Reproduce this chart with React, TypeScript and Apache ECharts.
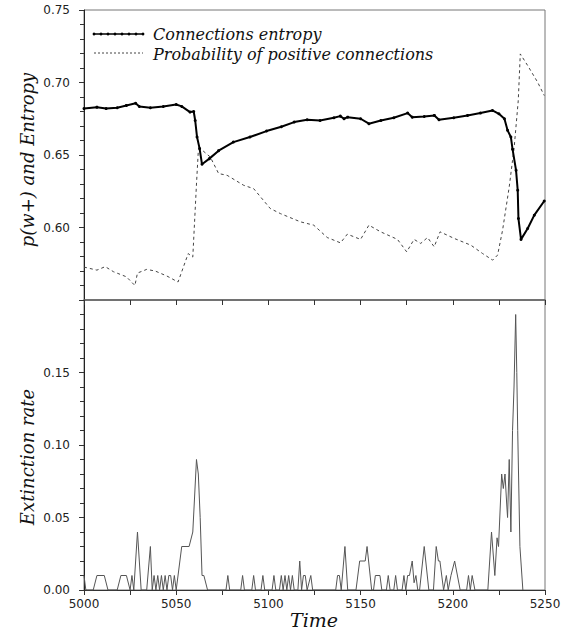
import React, { useEffect, useRef } from "react";
import * as echarts from "echarts";

// Connections entropy (top panel, solid with dots)
const entropyTime = [5000, 5007, 5012, 5018, 5023, 5028, 5030, 5036, 5043, 5050, 5053, 5057.5, 5059.5, 5060.3, 5061.3, 5062.7, 5064, 5068, 5073, 5081, 5090, 5099, 5107, 5114, 5121, 5128, 5135.5, 5139, 5141, 5143, 5150, 5154.5, 5161, 5168, 5175.5, 5178, 5184.5, 5190, 5192.5, 5200.5, 5208, 5215, 5221.5, 5225, 5228, 5229.7, 5231.5, 5232.4, 5234.3, 5235.2, 5235.6, 5237, 5240.6, 5244.2, 5249.6];
const entropyValue = [0.682, 0.683, 0.682, 0.6826, 0.6842, 0.6857, 0.6835, 0.6826, 0.6835, 0.6848, 0.6835, 0.6796, 0.68, 0.6738, 0.6624, 0.6544, 0.6436, 0.6475, 0.653, 0.6589, 0.6624, 0.6665, 0.6695, 0.6727, 0.6743, 0.6738, 0.6757, 0.6768, 0.675, 0.6761, 0.675, 0.6716, 0.6738, 0.6757, 0.6789, 0.6761, 0.6766, 0.6773, 0.6743, 0.6757, 0.6773, 0.6789, 0.6807, 0.6784, 0.675, 0.667, 0.6624, 0.654, 0.6394, 0.6257, 0.6062, 0.5918, 0.5993, 0.6085, 0.6183];

// Probability of positive connections (top panel, dashed)
const probTime = [5000, 5007, 5011.5, 5016, 5023, 5027.6, 5029, 5034, 5038.6, 5045, 5051, 5056.5, 5059, 5061, 5062, 5063, 5068.5, 5073, 5077.6, 5086.6, 5092, 5101, 5106.5, 5117.4, 5124.6, 5131.9, 5139.1, 5142.8, 5150, 5154.5, 5160.9, 5170, 5175, 5179, 5182.6, 5186.3, 5189.9, 5193.1, 5200.7, 5209.8, 5216.1, 5221.6, 5224.3, 5227, 5230.6, 5232.4, 5233.3, 5235.5, 5236.6, 5240.6, 5246, 5249.6];
const probValue = [0.5727, 0.5706, 0.573, 0.5695, 0.566, 0.56, 0.5686, 0.5711, 0.57, 0.5665, 0.5624, 0.582, 0.5796, 0.63, 0.653, 0.6545, 0.6486, 0.6372, 0.636, 0.6291, 0.6268, 0.6131, 0.6096, 0.6039, 0.6016, 0.5931, 0.5894, 0.5954, 0.5918, 0.6016, 0.597, 0.5918, 0.5832, 0.5918, 0.589, 0.5931, 0.5867, 0.597, 0.5925, 0.5878, 0.5821, 0.5775, 0.581, 0.5982, 0.628, 0.6463, 0.6555, 0.6876, 0.7197, 0.7117, 0.7002, 0.691];

// Extinction rate (bottom panel)
const extTime = [5000, 5001, 5005, 5007, 5011, 5013, 5018, 5020, 5023, 5025, 5026, 5027, 5029, 5031, 5034, 5036, 5037, 5038, 5039, 5040, 5041, 5042, 5043, 5044, 5045, 5046, 5047, 5048, 5049, 5050, 5052, 5053, 5057, 5059, 5061, 5062, 5063, 5064, 5065, 5067, 5077, 5078, 5079, 5085, 5086, 5087, 5091, 5092, 5093, 5096, 5097, 5098, 5102, 5103, 5104, 5106, 5107, 5108, 5109, 5110, 5111, 5112, 5113, 5114, 5116, 5117, 5118, 5119, 5120, 5121, 5123, 5124, 5136.5, 5137.5, 5138.5, 5139.5, 5141.5, 5143, 5147.5, 5149.5, 5152.5, 5153.5, 5156, 5157, 5158, 5160.5, 5161.5, 5164, 5165, 5166, 5168, 5169, 5170, 5172.5, 5173.5, 5174.5, 5175.5, 5176.5, 5178, 5179, 5180, 5181, 5182, 5184.5, 5187, 5189.5, 5191, 5192.2, 5193, 5195, 5196.5, 5197.5, 5199, 5201, 5204, 5207.5, 5208.5, 5209.5, 5210.5, 5212, 5219, 5221, 5222.8, 5224, 5224.8, 5226.5, 5227.4, 5228.3, 5229.2, 5229.7, 5230.6, 5231.5, 5232.4, 5233.2, 5234.1, 5234.7, 5235.2, 5236.4, 5238];
const extValue = [0.01, 0, 0, 0.01, 0.01, 0, 0, 0.01, 0.01, 0, 0.01, 0, 0.04, 0, 0, 0.03, 0, 0.01, 0, 0.01, 0, 0.01, 0, 0.01, 0, 0.01, 0.01, 0, 0.01, 0, 0.02, 0.03, 0.03, 0.04, 0.09, 0.08, 0.05, 0.01, 0.01, 0, 0, 0.01, 0, 0, 0.01, 0, 0, 0.01, 0, 0, 0.01, 0, 0, 0.01, 0, 0, 0.01, 0, 0.01, 0, 0.01, 0, 0.01, 0, 0, 0.02, 0, 0.01, 0.01, 0, 0.01, 0, 0, 0.01, 0.01, 0, 0.03, 0, 0, 0.02, 0.02, 0.03, 0, 0, 0.01, 0.01, 0, 0, 0.01, 0, 0, 0.01, 0, 0, 0.01, 0, 0.01, 0.01, 0.02, 0.005, 0.01, 0, 0, 0.03, 0, 0, 0.03, 0.02, 0.02, 0, 0.01, 0, 0.01, 0.02, 0, 0, 0.01, 0, 0.01, 0, 0, 0.04, 0.01, 0.036, 0.03, 0.08, 0.07, 0.08, 0.06, 0.05, 0.09, 0.04, 0.11, 0.14, 0.19, 0.15, 0.11, 0.03, 0];

const legendLabels = ["Connections entropy", "Probability of positive connections"];
const topTitle = "p(w+) and Entropy";
const bottomTitle = "Extinction rate";
const xTitle = "Time";

const zip = (t: number[], v: number[]) => t.map((x, i) => [x, v[i]]);

const TICK = "DejaVu Sans";
const SERIF = "DejaVu Serif";

export default function App() {
  const ref = useRef<HTMLDivElement>(null);
  useEffect(() => {
    if (!ref.current) return;
    const chart = echarts.init(ref.current, undefined, { renderer: "svg" });
    const dotXs: number[] = [];
    for (let x = 94; x <= 143; x += 7) dotXs.push(x);
    const axisCommon = {
      type: "value" as const,
      splitLine: { show: false },
      minorSplitLine: { show: false },
    };
    chart.setOption({
      animation: false,
      backgroundColor: "#fff",
      grid: [
        { left: 84, top: 10, width: 461, height: 290, show: true, borderColor: "#777", borderWidth: 1, outerBoundsMode: "none" },
        { left: 84, top: 300, width: 461, height: 290, show: true, borderColor: "#777", borderWidth: 1, outerBoundsMode: "none" },
      ],
      xAxis: [
        {
          ...axisCommon,
          gridIndex: 0,
          min: 5000,
          max: 5250,
          interval: 25,
          axisLine: { show: true, onZero: false, lineStyle: { color: "#666", width: 1.5 } },
          axisTick: { show: true, length: 5, lineStyle: { color: "#333" } },
          axisLabel: { show: false },
        },
        {
          ...axisCommon,
          gridIndex: 1,
          min: 5000,
          max: 5250,
          interval: 50,
          axisLine: { show: true, onZero: false, lineStyle: { color: "#333" } },
          axisTick: { show: true, length: 5, lineStyle: { color: "#333" } },
          minorTick: { show: true, splitNumber: 2, length: 5, lineStyle: { color: "#333" } },
          axisLabel: { fontFamily: TICK, fontSize: 12, color: "#222", margin: 8, formatter: (v: number) => String(v) },
        },
      ],
      yAxis: [
        {
          ...axisCommon,
          gridIndex: 0,
          min: 0.55,
          max: 0.75,
          interval: 0.05,
          axisLine: { show: true, lineStyle: { color: "#222" } },
          axisTick: { show: true, length: 5, lineStyle: { color: "#333" } },
          minorTick: { show: true, splitNumber: 5, length: 4, lineStyle: { color: "#333" } },
          axisLabel: {
            fontFamily: TICK,
            fontSize: 12,
            color: "#222",
            margin: 14,
            formatter: (v: number) => (Math.abs(v - 0.55) < 1e-6 ? "" : v.toFixed(2)),
          },
        },
        {
          ...axisCommon,
          gridIndex: 1,
          min: 0,
          max: 0.2,
          interval: 0.05,
          axisLine: { show: true, lineStyle: { color: "#222" } },
          axisTick: { show: true, length: 5, lineStyle: { color: "#333" } },
          minorTick: { show: true, splitNumber: 5, length: 4, lineStyle: { color: "#333" } },
          axisLabel: {
            fontFamily: TICK,
            fontSize: 12,
            color: "#222",
            margin: 14,
            formatter: (v: number) => (Math.abs(v - 0.2) < 1e-6 ? "" : v.toFixed(2)),
          },
        },
      ],
      series: [
        {
          name: legendLabels[1],
          type: "line",
          xAxisIndex: 0,
          yAxisIndex: 0,
          data: zip(probTime, probValue),
          symbol: "none",
          lineStyle: { color: "#444", width: 1, type: [3, 3] },
        },
        {
          name: legendLabels[0],
          type: "line",
          xAxisIndex: 0,
          yAxisIndex: 0,
          data: zip(entropyTime, entropyValue),
          symbol: "circle",
          symbolSize: 3,
          itemStyle: { color: "#000" },
          lineStyle: { color: "#000", width: 2 },
        },
        {
          name: bottomTitle,
          type: "line",
          xAxisIndex: 1,
          yAxisIndex: 1,
          data: zip(extTime, extValue),
          symbol: "none",
          lineStyle: { color: "#555", width: 1 },
        },
      ],
      graphic: [
        { type: "line", shape: { x1: 94, y1: 34, x2: 143, y2: 34 }, style: { stroke: "#000", lineWidth: 1.5 } },
        ...dotXs.map((x) => ({ type: "circle", shape: { cx: x, cy: 34, r: 1.4 }, style: { fill: "#000" } })),
        { type: "line", shape: { x1: 94, y1: 53, x2: 143, y2: 53 }, style: { stroke: "#444", lineWidth: 1, lineDash: [2, 2] } },
        { type: "text", x: 153, y: 34, style: { text: legendLabels[0], fontFamily: SERIF, fontStyle: "italic", fontSize: 16, fill: "#111", align: "left", verticalAlign: "middle" } },
        { type: "text", x: 153, y: 54, style: { text: legendLabels[1], fontFamily: SERIF, fontStyle: "italic", fontSize: 16, fill: "#111", align: "left", verticalAlign: "middle" } },
        { type: "text", x: 27, y: 160, rotation: Math.PI / 2, style: { text: topTitle, fontFamily: SERIF, fontStyle: "italic", fontSize: 18, fill: "#111", align: "center", verticalAlign: "middle" } },
        { type: "text", x: 27, y: 457, rotation: Math.PI / 2, style: { text: bottomTitle, fontFamily: SERIF, fontStyle: "italic", fontSize: 18, fill: "#111", align: "center", verticalAlign: "middle" } },
        { type: "text", x: 314, y: 620, style: { text: xTitle, fontFamily: SERIF, fontStyle: "italic", fontSize: 19, fill: "#111", align: "center", verticalAlign: "middle" } },
      ],
    });
    return () => chart.dispose();
  }, []);
  return (
    <div
      ref={ref}
      style={{ position: "fixed", left: 0, top: 0, width: 569, height: 635, background: "#fff" }}
    />
  );
}
